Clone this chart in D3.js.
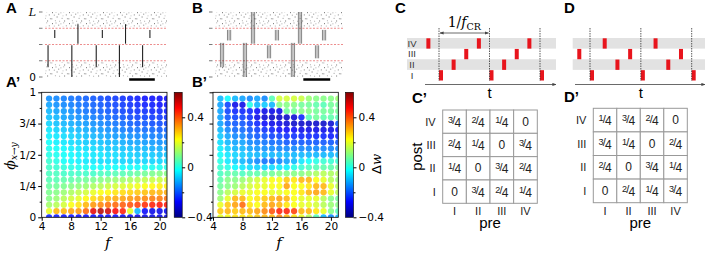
<!DOCTYPE html>
<html>
<head>
<meta charset="utf-8">
<script src="https://cdn.jsdelivr.net/npm/d3@7"></script>
<style>
  body { margin: 0; background: #fff; }
  svg { display: block; }
</style>
</head>
<body>
<div id="fig"></div>
<script>
// ---------- data ----------
const freqs = [5, 6, 7, 8, 9, 10, 11, 12, 13, 14, 15, 16, 17, 18, 19, 20, 21];
// phase lags, top row first
const phis = [0.95, 0.9, 0.85, 0.8, 0.75, 0.7, 0.65, 0.6, 0.55, 0.5,
              0.45, 0.4, 0.35, 0.3, 0.25, 0.2, 0.15, 0.1, 0.05, 0];

const dwA = [
  [-0.14,-0.15,-0.16,-0.17,-0.18,-0.19,-0.2,-0.21,-0.22,-0.23,-0.24,-0.25,-0.26,-0.27,-0.27,-0.28,-0.28],
  [-0.12,-0.14,-0.15,-0.16,-0.17,-0.18,-0.19,-0.2,-0.21,-0.22,-0.23,-0.24,-0.25,-0.26,-0.26,-0.27,-0.27],
  [-0.1,-0.12,-0.13,-0.14,-0.16,-0.17,-0.18,-0.19,-0.2,-0.21,-0.22,-0.23,-0.24,-0.24,-0.25,-0.25,-0.26],
  [-0.09,-0.1,-0.12,-0.13,-0.14,-0.15,-0.16,-0.17,-0.18,-0.19,-0.2,-0.21,-0.22,-0.22,-0.23,-0.23,-0.24],
  [-0.07,-0.09,-0.1,-0.11,-0.12,-0.13,-0.14,-0.15,-0.16,-0.17,-0.18,-0.19,-0.2,-0.2,-0.21,-0.21,-0.22],
  [-0.05,-0.07,-0.08,-0.09,-0.1,-0.11,-0.12,-0.13,-0.14,-0.15,-0.16,-0.17,-0.17,-0.18,-0.18,-0.19,-0.19],
  [-0.04,-0.05,-0.06,-0.07,-0.08,-0.09,-0.1,-0.11,-0.12,-0.13,-0.13,-0.14,-0.15,-0.15,-0.16,-0.16,-0.17],
  [-0.02,-0.04,-0.05,-0.06,-0.07,-0.08,-0.08,-0.09,-0.1,-0.1,-0.11,-0.12,-0.12,-0.13,-0.13,-0.14,-0.14],
  [-0.01,-0.02,-0.03,-0.04,-0.05,-0.06,-0.06,-0.07,-0.08,-0.08,-0.09,-0.09,-0.1,-0.1,-0.11,-0.11,-0.12],
  [0.0,-0.01,-0.02,-0.03,-0.04,-0.04,-0.05,-0.05,-0.06,-0.06,-0.07,-0.07,-0.08,-0.08,-0.08,-0.09,-0.09],
  [0.02,0.0,-0.02,-0.03,-0.04,-0.05,-0.05,-0.06,-0.06,-0.06,-0.07,-0.07,-0.07,-0.07,-0.07,-0.07,-0.06],
  [0.03,0.02,0.01,0.0,-0.01,-0.01,-0.02,-0.02,-0.02,-0.02,-0.02,-0.02,-0.02,-0.01,-0.01,-0.01,0.0],
  [0.04,0.04,0.03,0.03,0.03,0.03,0.03,0.04,0.04,0.05,0.05,0.06,0.07,0.08,0.09,0.1,0.1],
  [0.05,0.05,0.06,0.06,0.07,0.08,0.09,0.1,0.11,0.12,0.13,0.14,0.15,0.16,0.17,0.17,0.18],
  [0.07,0.08,0.09,0.1,0.11,0.12,0.14,0.15,0.17,0.18,0.19,0.2,0.21,0.22,0.23,0.24,0.24],
  [0.09,0.1,0.12,0.14,0.16,0.18,0.2,0.22,0.23,0.25,0.26,0.27,0.28,0.29,0.3,0.3,0.31],
  [0.1,0.12,0.15,0.18,0.2,0.23,0.26,0.28,0.3,0.31,0.32,0.33,0.34,0.35,0.36,0.36,0.37],
  [0.13,0.15,0.18,0.22,0.25,0.3,0.33,0.35,0.37,0.38,0.39,0.4,0.42,0.44,0.45,0.46,0.46],
  [0.2,0.3,0.3,0.32,0.33,0.38,0.5,0.55,0.52,0.48,0.45,0.2,-0.1,-0.28,-0.3,-0.3,-0.3],
  [-0.25,-0.26,-0.27,-0.27,-0.28,-0.28,-0.28,-0.28,-0.28,-0.28,-0.29,-0.29,-0.3,-0.3,-0.3,-0.3,-0.3]
];

const dwB = [
  [-0.1,-0.03,-0.1,-0.12,-0.15,-0.12,-0.15,0.05,0.18,0.18,0.18,0.17,0.12,0.1,0.1,0.1,0.12],
  [-0.12,-0.22,-0.3,-0.3,0.0,-0.1,-0.08,-0.1,0.1,0.1,0.1,0.08,0.08,0.06,0.05,0.08,0.08],
  [-0.12,-0.22,-0.25,-0.25,-0.25,-0.28,-0.3,-0.3,-0.3,0.08,0.08,0.1,0.1,0.08,0.08,0.08,0.08],
  [-0.12,-0.2,-0.22,-0.22,-0.24,-0.3,-0.32,-0.33,-0.33,-0.33,-0.32,-0.25,0.05,0.08,0.06,0.06,0.05],
  [-0.12,-0.18,-0.2,-0.2,-0.22,-0.25,-0.28,-0.3,-0.3,-0.32,-0.33,-0.33,-0.33,-0.33,-0.33,-0.32,-0.2],
  [-0.1,-0.15,-0.18,-0.18,-0.2,-0.22,-0.24,-0.25,-0.27,-0.28,-0.28,-0.3,-0.3,-0.3,-0.3,-0.3,-0.28],
  [-0.08,-0.12,-0.15,-0.15,-0.18,-0.2,-0.2,-0.22,-0.22,-0.24,-0.24,-0.25,-0.25,-0.25,-0.25,-0.26,-0.25],
  [-0.06,-0.1,-0.12,-0.12,-0.15,-0.16,-0.17,-0.18,-0.18,-0.2,-0.2,-0.2,-0.2,-0.2,-0.2,-0.2,-0.2],
  [-0.04,-0.07,-0.1,-0.1,-0.12,-0.13,-0.14,-0.14,-0.15,-0.15,-0.15,-0.15,-0.15,-0.15,-0.15,-0.15,-0.15],
  [-0.02,-0.05,-0.07,-0.08,-0.09,-0.1,-0.1,-0.1,-0.1,-0.1,-0.1,-0.1,-0.1,-0.1,-0.1,-0.1,-0.1],
  [0.0,-0.05,-0.08,-0.1,-0.12,-0.15,-0.17,-0.17,-0.15,-0.12,-0.1,-0.05,-0.02,0.0,0.02,0.02,0.02],
  [0.02,0.0,-0.03,-0.05,-0.06,-0.07,-0.07,-0.06,-0.05,-0.04,0.0,0.02,0.04,0.05,0.06,0.06,0.08],
  [0.04,0.06,0.06,0.04,0.06,0.06,0.08,0.08,0.1,0.1,0.1,0.1,0.12,0.14,0.15,0.14,0.14],
  [0.06,0.1,0.1,0.12,0.15,0.18,0.2,0.22,0.22,0.28,0.25,0.3,0.3,0.22,0.2,0.15,0.12],
  [0.08,0.1,0.12,0.15,0.18,0.2,0.2,0.22,0.22,0.32,0.22,0.22,0.25,0.3,0.3,0.2,0.15],
  [0.1,0.15,0.18,0.2,0.2,0.22,0.22,0.2,0.2,0.22,0.22,0.25,0.3,0.32,0.3,0.2,0.15],
  [0.12,0.2,0.3,0.3,0.22,0.25,0.28,0.3,0.32,0.3,0.22,0.2,0.2,0.2,0.15,0.1,0.08],
  [0.2,0.28,0.32,0.38,0.25,0.22,0.3,0.32,0.3,0.25,0.22,0.2,0.2,0.18,0.15,0.12,0.1],
  [0.28,0.3,0.28,0.3,0.3,0.32,0.35,0.4,0.45,0.45,0.42,0.3,0.3,0.25,0.2,0.1,0.05],
  [0.2,0.22,0.25,0.25,0.25,0.28,0.3,0.3,0.35,0.3,0.25,0.2,0.15,0.05,-0.1,-0.15,-0.1]
];

const fTicks = [4, 8, 12, 16, 20];
const phiTicks = [0, 0.25, 0.5, 0.75, 1];
const phiTickLabels = ["0", "1/4", "1/2", "3/4", "1"];
const phiMinor = [0.125, 0.375, 0.625, 0.875];
const cbarTicks = [-0.4, 0, 0.4];
const cbarTickLabels = ["\u22120.4", "0", "0.4"];
const cbarMinor = [-0.2, 0.2];

// raster bursts: time (a.u.), neuron index range (0..400)
const burstsA = [
  {t: 8, lo: 240, hi: 290}, {t: 27, lo: 205, hi: 325}, {t: 47, lo: 240, hi: 290},
  {t: 66, lo: 205, hi: 325}, {t: 86, lo: 240, hi: 290},
  {t: 2.5, lo: 60, hi: 195}, {t: 22, lo: 0, hi: 195}, {t: 42, lo: 60, hi: 195},
  {t: 61, lo: 0, hi: 195}, {t: 80, lo: 60, hi: 195}
];
const burstsB = [
  {t: 11, lo: 225, hi: 290}, {t: 29.7, lo: 205, hi: 400}, {t: 48.4, lo: 225, hi: 290},
  {t: 66.4, lo: 205, hi: 400}, {t: 85.2, lo: 225, hi: 290},
  {t: 5.5, lo: 60, hi: 210}, {t: 23.4, lo: 0, hi: 210}, {t: 42.2, lo: 115, hi: 195},
  {t: 60.9, lo: 0, hi: 210}, {t: 79.7, lo: 115, hi: 195}
];
const bandEdges = [100, 200, 300];
const scaleBarT = [69, 90];

const groups = ["IV", "III", "II", "I"];
const phaseC = {I: 0, II: 0.25, III: 0.5, IV: 0.75};
const phaseD = {I: 0, II: 0.5, III: 0.75, IV: 0.25};
const cycles = [-1, 0, 1, 2];
const lagC = [["3/4","2/4","1/4","0"], ["2/4","1/4","0","3/4"], ["1/4","0","3/4","2/4"], ["0","3/4","2/4","1/4"]];
const lagD = [["1/4","3/4","2/4","0"], ["3/4","1/4","0","2/4"], ["2/4","0","3/4","1/4"], ["0","2/4","1/4","3/4"]];

// ---------- drawing ----------
const W = 708, H = 254;
const cDomain = [-0.4, 0.6];
const sans = "'DejaVu Sans', sans-serif";
const arial = "'Liberation Sans', Arial, sans-serif";
const serif = "'DejaVu Serif', 'Liberation Serif', serif";

const svg = d3.select("#fig").append("svg")
  .attr("width", W).attr("height", H)
  .style("font-family", sans);
const defs = svg.append("defs");

function jet(v) {
  const t = Math.max(0, Math.min(1, (v - cDomain[0]) / (cDomain[1] - cDomain[0])));
  const c = x => Math.round(255 * Math.max(0, Math.min(1, x)));
  return `rgb(${c(1.5 - Math.abs(4*t - 3))},${c(1.5 - Math.abs(4*t - 2))},${c(1.5 - Math.abs(4*t - 1))})`;
}

// speckle texture for the background spikes
const pat = defs.append("pattern").attr("id", "speckle")
  .attr("width", 17).attr("height", 11).attr("patternUnits", "userSpaceOnUse");
[[1,1,"#888"],[4.5,0.4,"#aaa"],[7.2,2.6,"#999"],[2.8,3.6,"#aaa"],[0.3,7.2,"#999"],
 [5.6,5.4,"#888"],[12.2,0.2,"#bbb"],[3.9,9.1,"#bbb"],[9.4,1.2,"#bbb"],[14.8,3.3,"#999"],
 [10.6,6.8,"#aaa"],[13.1,9.4,"#888"],[8.1,9.7,"#bbb"],[15.9,7.1,"#aaa"],[11.5,4.2,"#ccc"]].forEach(p =>
  pat.append("rect").attr("x", p[0]).attr("y", p[1]).attr("width", 1).attr("height", 1.2).attr("fill", p[2]));

// markers
defs.append("marker").attr("id", "arr").attr("viewBox", "0 0 10 10")
  .attr("refX", 9).attr("refY", 5).attr("markerWidth", 5).attr("markerHeight", 5)
  .attr("orient", "auto-start-reverse")
  .append("path").attr("d", "M0,1L10,5L0,9z").attr("fill", "#444");

function panelLabel(x, y, txt) {
  svg.append("text").attr("x", x).attr("y", y).text(txt)
    .style("font-family", arial).style("font-weight", "bold").style("font-size", "15px");
}

// ---- raster panels (A, B) ----
function raster(x0, x1, bursts, triple, withLabels) {
  const x = d3.scaleLinear().domain([0, 100]).range([x0, x1]);
  const y = d3.scaleLinear().domain([0, 400]).range([77, 12]);
  const g = svg.append("g");
  g.append("rect").attr("x", x0).attr("y", y(400)).attr("width", x1 - x0)
    .attr("height", y(310) - y(400)).attr("fill", "url(#speckle)");
  g.append("rect").attr("x", x0).attr("y", y(90)).attr("width", x1 - x0)
    .attr("height", y(0) - y(90)).attr("fill", "url(#speckle)");
  g.selectAll("line.band").data(bandEdges).join("line").attr("class", "band")
    .attr("x1", x0).attr("x2", x1).attr("y1", d => y(d)).attr("y2", d => y(d))
    .attr("stroke", "#e87070").attr("stroke-width", 0.8).attr("stroke-dasharray", "2,1.5");
  const offs = triple ? [-1.25, 0, 1.25] : [0];
  const lines = [];
  bursts.forEach(b => offs.forEach(o => lines.push({t: b.t + o, lo: b.lo, hi: b.hi})));
  g.selectAll("line.sp").data(lines).join("line").attr("class", "sp")
    .attr("x1", d => x(d.t)).attr("x2", d => x(d.t))
    .attr("y1", d => y(d.lo)).attr("y2", d => y(d.hi))
    .attr("stroke", triple ? "#333" : "#222").attr("stroke-width", triple ? 0.6 : 1.1);
  // y ticks
  g.selectAll("line.yt").data([0, 100, 200, 300, 400]).join("line").attr("class", "yt")
    .attr("x1", x0 - 6).attr("x2", x0 - 2.5).attr("y1", d => y(d)).attr("y2", d => y(d))
    .attr("stroke", "#555").attr("stroke-width", 0.8);
  if (withLabels) {
    g.append("text").attr("x", x0 - 9).attr("y", y(400) + 4).attr("text-anchor", "end")
      .style("font-family", serif).style("font-style", "italic").style("font-size", "11px").text("L");
    g.append("text").attr("x", x0 - 9).attr("y", y(0) + 4).attr("text-anchor", "end")
      .style("font-size", "10.5px").text("0");
  }
  g.append("line").attr("x1", x(scaleBarT[0])).attr("x2", x(scaleBarT[1]))
    .attr("y1", 79.5).attr("y2", 79.5).attr("stroke", "#000").attr("stroke-width", 2.5);
}

raster(45, 167, burstsA, false, true);
raster(215, 343, burstsB, true, false);

// ---- dot-grid panels (A', B') ----
function dotPanel(x0, rows, showY, id) {
  const x = d3.scaleLinear().domain([4, 21]).range([x0, x0 + 125.3]);
  const y = d3.scaleLinear().domain([0, 1]).range([217.3, 92.3]);
  defs.append("clipPath").attr("id", id).append("rect")
    .attr("x", x0).attr("y", 92.3).attr("width", 125.3).attr("height", 125);
  const cells = [];
  rows.forEach((row, i) => row.forEach((v, j) => cells.push({f: freqs[j], phi: phis[i], v})));
  svg.append("g").attr("clip-path", `url(#${id})`)
    .selectAll("circle").data(cells).join("circle")
    .attr("cx", d => x(d.f)).attr("cy", d => y(d.phi)).attr("r", 3.15)
    .attr("fill", d => jet(d.v)).attr("fill-opacity", 0.85);
  svg.append("rect").attr("x", x0).attr("y", 92.3).attr("width", 125.3).attr("height", 125)
    .attr("fill", "none").attr("stroke", "#000").attr("stroke-width", 0.8);

  const ax = svg.append("g").attr("transform", "translate(0,217.3)")
    .call(d3.axisBottom(x).tickValues(fTicks).tickSize(3.5).tickSizeOuter(0).tickPadding(2));
  ax.select(".domain").remove();
  ax.selectAll("text").style("font-family", sans).style("font-size", "10.5px");

  const ay = svg.append("g").attr("transform", `translate(${x0},0)`)
    .call(d3.axisLeft(y).tickValues(phiTicks).tickSize(3.5).tickSizeOuter(0).tickPadding(2)
      .tickFormat((d, i) => showY ? phiTickLabels[i] : ""));
  ay.select(".domain").remove();
  ay.selectAll("text").style("font-family", sans).style("font-size", "10.5px");
  const am = svg.append("g").attr("transform", `translate(${x0},0)`)
    .call(d3.axisLeft(y).tickValues(phiMinor).tickSize(2).tickFormat(""));
  am.select(".domain").remove();

  svg.append("text").attr("x", x0 + 66).attr("y", 248).attr("text-anchor", "middle")
    .style("font-family", serif).style("font-style", "italic").style("font-size", "15px").text("f");

  // colorbar
  const cx0 = x0 + 132.5, cw = 8;
  const cy = d3.scaleLinear().domain(cDomain).range([217.3, 92.3]);
  const gid = id + "grad";
  const grad = defs.append("linearGradient").attr("id", gid)
    .attr("x1", 0).attr("y1", 1).attr("x2", 0).attr("y2", 0);
  d3.range(0, 1.0001, 0.0625).forEach(t => grad.append("stop")
    .attr("offset", t).attr("stop-color", jet(cDomain[0] + t * (cDomain[1] - cDomain[0]))));
  svg.append("rect").attr("x", cx0).attr("y", 92.3).attr("width", cw).attr("height", 125)
    .attr("fill", `url(#${gid})`).attr("stroke", "#000").attr("stroke-width", 0.6);
  const ac = svg.append("g").attr("transform", `translate(${cx0 + cw},0)`)
    .call(d3.axisRight(cy).tickValues(cbarTicks).tickSize(3).tickPadding(2)
      .tickFormat((d, i) => cbarTickLabels[i]));
  ac.select(".domain").remove();
  ac.selectAll("text").style("font-family", sans).style("font-size", "10.5px");
  const acm = svg.append("g").attr("transform", `translate(${cx0 + cw},0)`)
    .call(d3.axisRight(cy).tickValues(cbarMinor).tickSize(2).tickFormat(""));
  acm.select(".domain").remove();
  return {x, y};
}

dotPanel(41.7, dwA, true, "clipA");
dotPanel(213, dwB, false, "clipB");

// y label of A'
const yl = svg.append("text").attr("transform", "translate(15,156) rotate(-90)")
  .attr("text-anchor", "middle").style("font-family", serif).style("font-style", "italic");
yl.append("tspan").style("font-size", "14px").text("\u03d5");
yl.append("tspan").style("font-size", "9px").attr("dy", 2).text("x\u2192y");

// colorbar label of B'
const dl = svg.append("text").attr("transform", "translate(381,164) rotate(-90)")
  .attr("text-anchor", "middle").style("font-size", "13px");
dl.append("tspan").text("\u0394");
dl.append("tspan").style("font-family", serif).style("font-style", "italic").text("w");

// ---- phase schemes (C, D) ----
function scheme(t0, period, bandX0, bandX1, axisX0, phase, withLabels, withPeriod) {
  const x = d3.scaleLinear().domain([0, 1]).range([t0, t0 + period]);
  const yb = d3.scaleBand().domain(groups).range([38, 80.5]);
  const g = svg.append("g");
  g.selectAll("rect.band").data(["IV", "II"]).join("rect").attr("class", "band")
    .attr("x", bandX0).attr("width", bandX1 - bandX0)
    .attr("y", d => yb(d)).attr("height", yb.bandwidth()).attr("fill", "#e2e2e2");
  const spikes = [];
  groups.forEach(gr => cycles.forEach(c => {
    const t = c + phase[gr];
    if (t >= -0.3 && t <= 2.05) spikes.push({gr, t});
  }));
  g.selectAll("rect.sp").data(spikes).join("rect").attr("class", "sp")
    .attr("x", d => x(d.t)).attr("width", 4)
    .attr("y", d => yb(d.gr) + 0.3).attr("height", yb.bandwidth() - 0.3)
    .attr("fill", "#e8141c");
  g.selectAll("line.per").data([0, 1, 2]).join("line").attr("class", "per")
    .attr("x1", d => x(d)).attr("x2", d => x(d)).attr("y1", 28).attr("y2", 81)
    .attr("stroke", "#333").attr("stroke-width", 0.8).attr("stroke-dasharray", "1.5,1");
  g.append("line").attr("x1", axisX0).attr("x2", bandX1).attr("y1", 84.5).attr("y2", 84.5)
    .attr("stroke", "#444").attr("stroke-width", 0.8).attr("marker-end", "url(#arr)");
  g.append("text").attr("x", x(1)).attr("y", 98).attr("text-anchor", "middle")
    .style("font-family", arial).style("font-size", "15px").text("t");
  if (withLabels) {
    g.selectAll("text.gl").data(groups).join("text").attr("class", "gl")
      .attr("x", bandX0 + 5).attr("y", d => yb(d) + yb.bandwidth() / 2 + 3.5)
      .attr("text-anchor", "middle").style("font-family", arial).style("font-size", "9.5px")
      .attr("fill", "#333").text(d => d);
  }
  if (withPeriod) {
    g.append("line").attr("x1", x(0) + 1).attr("x2", x(1) - 1).attr("y1", 33).attr("y2", 33)
      .attr("stroke", "#444").attr("stroke-width", 0.8)
      .attr("marker-start", "url(#arr)").attr("marker-end", "url(#arr)");
    const pt = g.append("text").attr("x", x(0.5)).attr("y", 27).attr("text-anchor", "middle")
      .style("font-family", serif).style("font-size", "14px");
    pt.append("tspan").text("1/");
    pt.append("tspan").style("font-style", "italic").text("f");
    pt.append("tspan").attr("dy", 3).style("font-size", "9.5px").text("CR");
  }
}

scheme(439, 50.5, 407, 556, 425, phaseC, true, true);
scheme(590, 50.85, 572.7, 705, 575, phaseD, false, false);

// ---- lag tables (C', D') ----
function lagTable(x0, x1, y0, y1, mat, postLabel) {
  const xs = d3.scaleBand().domain(groups.slice().reverse()).range([x0, x1]);
  const ys = d3.scaleBand().domain(groups).range([y0, y1]);
  const g = svg.append("g").style("font-family", arial);
  const cells = [];
  mat.forEach((row, i) => row.forEach((v, j) => cells.push({post: groups[i], pre: groups[3 - j], v})));
  g.selectAll("rect").data(cells).join("rect")
    .attr("x", d => xs(d.pre)).attr("y", d => ys(d.post))
    .attr("width", xs.bandwidth()).attr("height", ys.bandwidth())
    .attr("fill", "#fff").attr("stroke", "#999").attr("stroke-width", 1);
  const txt = g.selectAll("text.cell").data(cells).join("text").attr("class", "cell")
    .attr("x", d => xs(d.pre) + xs.bandwidth() / 2)
    .attr("y", d => ys(d.post) + ys.bandwidth() / 2 + 4)
    .attr("text-anchor", "middle").attr("fill", "#222");
  txt.each(function(d) {
    const t = d3.select(this);
    if (d.v === "0") { t.style("font-size", "12px").text("0"); return; }
    const num = d.v.split("/")[0];
    t.append("tspan").style("font-size", "9px").attr("dy", -3).text(num);
    t.append("tspan").style("font-size", "11px").attr("dy", 1.5).attr("dx", -0.8).text("/");
    t.append("tspan").style("font-size", "12px").attr("dy", 2.5).attr("dx", -0.8).text("4");
  });
  g.selectAll("text.rl").data(groups).join("text").attr("class", "rl")
    .attr("x", x0 - 7).attr("y", d => ys(d) + ys.bandwidth() / 2 + 4)
    .attr("text-anchor", "end").style("font-size", "11px").attr("fill", "#222").text(d => d);
  g.selectAll("text.cl").data(groups).join("text").attr("class", "cl")
    .attr("x", d => xs(d) + xs.bandwidth() / 2).attr("y", y1 + 12)
    .attr("text-anchor", "middle").style("font-size", "11px").attr("fill", "#222").text(d => d);
  g.append("text").attr("x", (x0 + x1) / 2).attr("y", y1 + 25).attr("text-anchor", "middle")
    .style("font-size", "15px").text("pre");
  if (postLabel) {
    g.append("text").attr("transform", `translate(${x0 - 21},${(y0 + y1) / 2}) rotate(-90)`)
      .attr("text-anchor", "middle").style("font-size", "15px").text("post");
  }
}

lagTable(442.7, 537.3, 110, 203.3, lagC, true);
lagTable(593.3, 687.3, 108.3, 202.7, lagD, false);

// ---- panel letters ----
panelLabel(6, 13, "A");
panelLabel(6, 87, "A\u2019");
panelLabel(192, 13, "B");
panelLabel(192, 87, "B\u2019");
panelLabel(395, 13, "C");
panelLabel(412, 103, "C\u2019");
panelLabel(564, 13, "D");
panelLabel(564, 102, "D\u2019");
</script>
</body>
</html>
